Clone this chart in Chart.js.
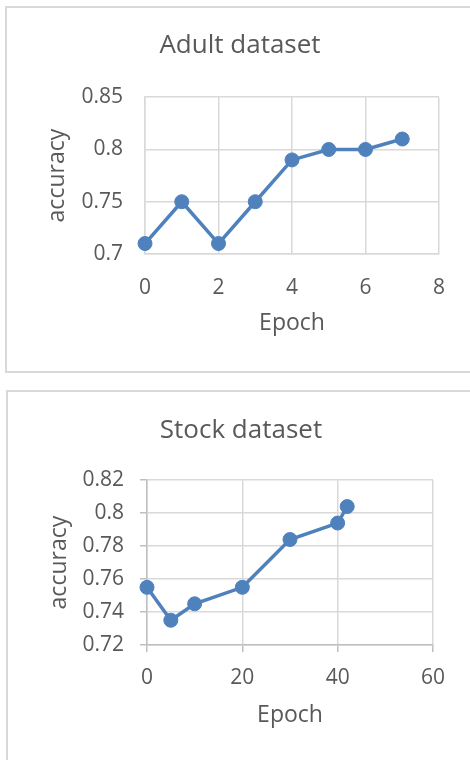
<!DOCTYPE html>
<html>
<head>
<meta charset="utf-8">
<script src="https://cdn.jsdelivr.net/npm/chart.js"></script>
<style>
    html, body { margin: 0; padding: 0; background: #fff; width: 470px; height: 760px; overflow: hidden; }
    .box { position: absolute; border: 2px solid #d9d9d9; }
    #box_adult { left: 5px; top: 6px; }
    #box_stock { left: 6px; top: 390px; }
    canvas { display: block; }
</style>
</head>
<body>
<div class="box" id="box_adult"><canvas id="Chart_Adult" width="466" height="363"></canvas></div>
<div class="box" id="box_stock"><canvas id="Chart_Stock" width="466" height="380"></canvas></div>
<script>
// Dữ liệu biểu đồ Adult
var adult_epoch = [0, 1, 2, 3, 4, 5, 6, 7];
var adult_accuracy = [0.71, 0.75, 0.71, 0.75, 0.79, 0.80, 0.80, 0.81];
var adult_x_ticks = [0, 2, 4, 6, 8];
var adult_y_ticks = [0.7, 0.75, 0.8, 0.85];
var adult_y_labels = ['0.7', '0.75', '0.8', '0.85'];

// Dữ liệu biểu đồ Stock
var stock_epoch = [0, 5, 10, 20, 30, 40, 42];
var stock_accuracy = [0.755, 0.735, 0.745, 0.755, 0.784, 0.794, 0.804];
var stock_x_ticks = [0, 20, 40, 60];
var stock_y_ticks = [0.72, 0.74, 0.76, 0.78, 0.8, 0.82];
var stock_y_labels = ['0.72', '0.74', '0.76', '0.78', '0.8', '0.82'];

var FONT = "'Open Sans', sans-serif";
var TEXT_COLOR = '#595959';
var LINE_COLOR = '#4f81bd';
var GRID_COLOR = '#d9d9d9';

function toPoints(xs, ys) {
    return xs.map(function (x, i) {
        return { x: x, y: ys[i] };
    });
}

// s: cấu hình riêng cho từng chart
function drawChart(id, s) {
    return new Chart(document.getElementById(id), {
        type: 'scatter',
        data: {
            datasets: [{
                data: toPoints(s.xs, s.ys),
                showLine: true,
                borderColor: LINE_COLOR,
                backgroundColor: LINE_COLOR,
                borderWidth: 3.5,
                pointRadius: 7,
                pointBorderWidth: 1,
                clip: false
            }]
        },
        options: {
            responsive: false,
            animation: false,
            devicePixelRatio: 1,
            layout: {
                padding: 0
            },
            plugins: {
                legend: { display: false },
                tooltip: { enabled: false },
                title: {
                    display: true,
                    text: s.title,
                    color: TEXT_COLOR,
                    font: { family: FONT, size: 26, weight: 'normal', lineHeight: 1.2 },
                    padding: s.titlePad
                }
            },
            scales: {
                x: {
                    type: 'linear',
                    min: s.xTicks[0],
                    max: s.xTicks[s.xTicks.length - 1],
                    afterBuildTicks: function (scale) {
                        scale.ticks = s.xTicks.map(function (v) { return { value: v }; });
                    },
                    // giữ khoảng trống bên phải mà title vẫn canh giữa theo cả khung
                    afterFit: function (scale) {
                        scale.height = s.xHeight;
                        scale.paddingRight = s.padRight;
                    },
                    grid: {
                        color: GRID_COLOR,
                        lineWidth: 1.5,
                        drawTicks: s.ticks,
                        tickLength: 7,
                        tickColor: '#bfbfbf'
                    },
                    border: { color: s.axisColor, width: 1.5 },
                    ticks: {
                        color: TEXT_COLOR,
                        padding: s.xTickPad,
                        maxRotation: 0,
                        font: { family: FONT, size: 21, lineHeight: 1.2 }
                    },
                    title: {
                        display: true,
                        text: 'Epoch',
                        color: TEXT_COLOR,
                        font: { family: FONT, size: 23, lineHeight: 1.2 },
                        padding: { top: 0, bottom: s.xTitlePad }
                    }
                },
                y: {
                    type: 'linear',
                    min: s.yTicks[0],
                    max: s.yTicks[s.yTicks.length - 1],
                    afterBuildTicks: function (scale) {
                        scale.ticks = s.yTicks.map(function (v) { return { value: v }; });
                    },
                    afterFit: function (scale) { scale.width = s.yWidth; },
                    grid: {
                        color: GRID_COLOR,
                        lineWidth: 1.5,
                        drawTicks: s.ticks,
                        tickLength: 7,
                        tickColor: '#bfbfbf'
                    },
                    border: { color: s.axisColor, width: 1.5 },
                    ticks: {
                        color: TEXT_COLOR,
                        padding: s.yTickPad,
                        font: { family: FONT, size: 21, lineHeight: 1.2 },
                        callback: function (value, index) {
                            return s.yLabels[index];
                        }
                    },
                    title: {
                        display: true,
                        text: 'accuracy',
                        color: TEXT_COLOR,
                        font: { family: FONT, size: 23, lineHeight: 1.2 },
                        padding: { top: s.yTitlePad, bottom: 0 }
                    }
                }
            }
        }
    });
}

var Chart_Adult = drawChart('Chart_Adult', {
    title: 'Adult dataset',
    xs: adult_epoch,
    ys: adult_accuracy,
    xTicks: adult_x_ticks,
    yTicks: adult_y_ticks,
    yLabels: adult_y_labels,
    ticks: false,
    axisColor: GRID_COLOR,
    padRight: 34,
    titlePad: { top: 22, bottom: 36 },
    xHeight: 117,
    yWidth: 138,
    xTickPad: 21,
    yTickPad: 22,
    xTitlePad: 34,
    yTitlePad: 37
});

var Chart_Stock = drawChart('Chart_Stock', {
    title: 'Stock dataset',
    xs: stock_epoch,
    ys: stock_accuracy,
    xTicks: stock_x_ticks,
    yTicks: stock_y_ticks,
    yLabels: stock_y_labels,
    ticks: true,
    axisColor: '#bfbfbf',
    padRight: 41,
    titlePad: { top: 23, bottom: 34 },
    xHeight: 127,
    yWidth: 139,
    xTickPad: 13,
    yTickPad: 16,
    xTitlePad: 43,
    yTitlePad: 38
});
</script>
</body>
</html>
